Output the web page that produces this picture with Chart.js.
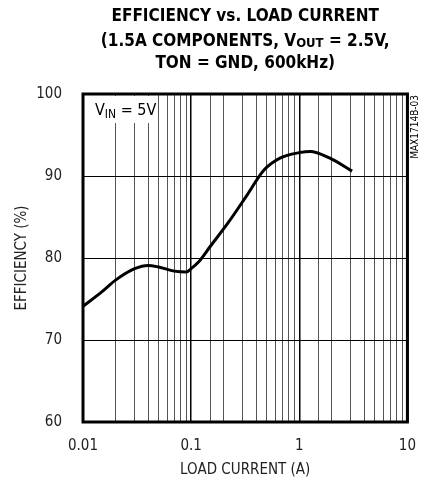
<!DOCTYPE html>
<html>
<head>
<meta charset="utf-8">
<script src="https://cdn.jsdelivr.net/npm/chart.js@4.4.0/dist/chart.umd.min.js"></script>
<style>
  html, body { margin: 0; padding: 0; background: #fff; }
</style>
</head>
<body>
<canvas id="effChart" width="431" height="481"></canvas>
<script>
// Data
const loadCurrent = [0.01, 0.015, 0.02, 0.03, 0.04, 0.05, 0.07, 0.09, 0.1, 0.117, 0.15, 0.22, 0.33, 0.47, 0.67, 1.0, 1.26, 1.9, 3.08];
const efficiency = [74.1, 75.9, 77.3, 78.7, 79.1, 78.9, 78.4, 78.3, 78.7, 79.5, 81.4, 84.3, 87.7, 90.7, 92.2, 92.85, 93.0, 92.2, 90.6];
const xTickLabels = [0.01, 0.1, 1, 10];
const yTicks = [60, 70, 80, 90, 100];

const NARROW = '"Liberation Sans Narrow", "DejaVu Sans Condensed", "Roboto Condensed", sans-serif';

// title lines, each a list of [text, isSubscript]
const titleLines = [
    [['EFFICIENCY vs. LOAD CURRENT', false]],
    [['(1.5A COMPONENTS, V', false], ['OUT', true], [' = 2.5V,', false]],
    [['TON = GND, 600kHz)', false]]
];

function isDecade(v) {
    const l = Math.log10(v);
    return Math.abs(l - Math.round(l)) < 1e-6;
}

// draw a run of text pieces with subscripts, starting at x
function drawPieces(ctx, pieces, x, y, size, subSize, subDrop, weight, align) {
    const widths = pieces.map(p => {
        ctx.font = weight + ' ' + (p[1] ? subSize : size) + 'px ' + NARROW;
        return ctx.measureText(p[0]).width;
    });
    const total = widths.reduce((a, b) => a + b, 0);
    let cx = align === 'center' ? x - total / 2 : x;
    pieces.forEach((p, i) => {
        ctx.font = weight + ' ' + (p[1] ? subSize : size) + 'px ' + NARROW;
        ctx.fillText(p[0], cx, p[1] ? y + subDrop : y);
        cx += widths[i];
    });
}

const decorPlugin = {
    id: 'decor',
    beforeDatasetsDraw(chart) {
        const ctx = chart.ctx;
        const a = chart.chartArea;
        ctx.save();
        // blank space behind the V_IN note
        ctx.fillStyle = '#fff';
        ctx.fillRect(a.left + 2, a.top + 2, 70, 27);
        // plot frame
        ctx.strokeStyle = '#000';
        ctx.lineWidth = 3;
        ctx.strokeRect(a.left, a.top, a.right - a.left, a.bottom - a.top);
        ctx.restore();
    },
    afterDraw(chart) {
        const ctx = chart.ctx;
        const a = chart.chartArea;
        const midX = (a.left + a.right) / 2;
        ctx.save();
        ctx.fillStyle = '#000';
        ctx.textBaseline = 'alphabetic';
        ctx.textAlign = 'left';

        // title
        const baselines = [21, 45.5, 68];
        titleLines.forEach((line, i) => {
            drawPieces(ctx, line, midX, baselines[i], 17, 13, 1, 'bold', 'center');
        });

        // V_IN = 5V
        drawPieces(ctx, [['V', false], ['IN', true], [' = 5V', false]], a.left + 12, a.top + 21, 16, 12, 3, 'normal', 'left');

        // part number on the right side
        ctx.translate(a.right + 8, a.top + 1);
        ctx.rotate(-Math.PI / 2);
        ctx.font = '10px ' + NARROW;
        ctx.textAlign = 'right';
        ctx.textBaseline = 'middle';
        ctx.fillText('MAX1714B-03', 0, 0);
        ctx.restore();
    }
};

const ctx = document.getElementById('effChart');
new Chart(ctx, {
    type: 'line',
    data: {
        datasets: [{
            data: loadCurrent.map((x, i) => ({ x: x, y: efficiency[i] })),
            borderColor: '#000',
            borderWidth: 3,
            pointRadius: 0,
            cubicInterpolationMode: 'monotone',
            fill: false
        }]
    },
    options: {
        responsive: false,
        animation: false,
        devicePixelRatio: 1,
        layout: {
            padding: { top: 94, right: 19, left: 0, bottom: 0 }
        },
        plugins: {
            legend: { display: false },
            tooltip: { enabled: false }
        },
        scales: {
            x: {
                type: 'logarithmic',
                min: 0.01,
                max: 10,
                afterFit: s => { s.height = 59; },
                border: { display: false },
                grid: {
                    drawTicks: false,
                    color: c => (c.tick && isDecade(c.tick.value)) ? '#000' : '#555',
                    lineWidth: c => (c.tick && isDecade(c.tick.value)) ? 1.5 : 1
                },
                ticks: {
                    autoSkip: false,
                    maxRotation: 0,
                    minRotation: 0,
                    padding: 15,
                    color: '#222',
                    font: { family: NARROW, size: 15 },
                    callback: v => {
                        const hit = xTickLabels.find(t => Math.abs(t - v) / t < 1e-6);
                        return hit !== undefined ? String(hit) : '';
                    }
                },
                title: {
                    display: true,
                    text: 'LOAD CURRENT (A)',
                    color: '#222',
                    font: { family: NARROW, size: 15 },
                    padding: { top: 0, bottom: 2 }
                }
            },
            y: {
                min: 60,
                max: 100,
                afterFit: s => { s.width = 83; },
                afterBuildTicks: s => { s.ticks = yTicks.map(v => ({ value: v })); },
                border: { display: false },
                grid: {
                    drawTicks: false,
                    color: '#000',
                    lineWidth: 1
                },
                ticks: {
                    padding: 21,
                    color: '#222',
                    font: { family: NARROW, size: 15 }
                },
                title: {
                    display: true,
                    text: 'EFFICIENCY (%)',
                    color: '#222',
                    font: { family: NARROW, size: 15 },
                    padding: { top: 13, bottom: 0 }
                }
            }
        }
    },
    plugins: [decorPlugin]
});
</script>
</body>
</html>
